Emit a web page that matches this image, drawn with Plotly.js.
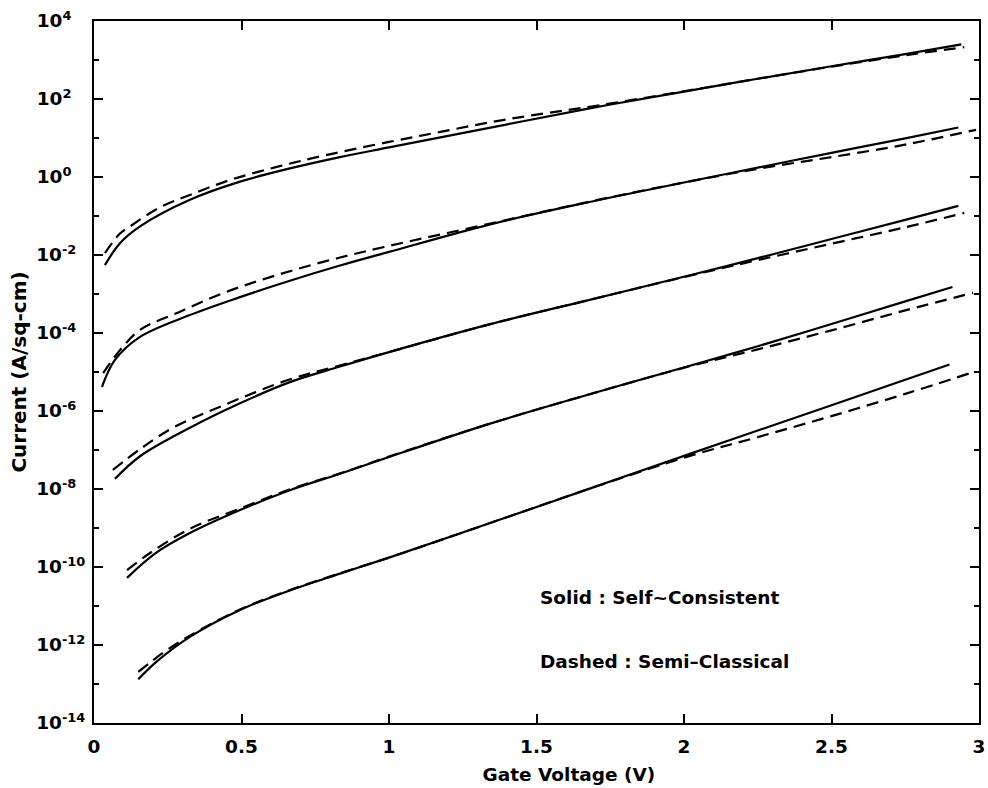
<!DOCTYPE html>
<html>
<head>
<meta charset="utf-8">
<script src="https://cdn.plot.ly/plotly-3.0.1.min.js"></script>
<style>
  html, body { margin: 0; padding: 0; background: #ffffff; }
  #chart { width: 988px; height: 788px; }
</style>
</head>
<body>
<div id="chart"></div>
<script>
// Gate current density vs gate voltage, five oxide thicknesses.
// Solid = self-consistent model, dashed = semi-classical model.

// Curve 1 (top)
const vSolid1 = [0.037, 0.088, 0.156, 0.325, 0.495, 0.664, 0.834, 1.0, 1.34, 1.68, 2.0, 2.25, 2.5, 2.75, 2.94];
const jSolid1 = [5.5e-3, 2.0e-2, 5.4e-2, 0.26, 0.76, 1.66, 3.24, 5.75, 18.2, 57.5, 155, 331, 692, 1413, 2512];
const vDash1  = [0.037, 0.088, 0.12, 0.22, 0.325, 0.46, 0.62, 0.78, 1.0, 1.17, 1.34, 1.5, 1.68, 2.0, 2.25, 2.5, 2.75, 2.95];
const jDash1  = [1.12e-2, 3.55e-2, 5.25e-2, 0.162, 0.347, 0.832, 1.82, 3.55, 7.94, 14.1, 25.1, 39.8, 63.1, 158, 331, 676, 1318, 2138];

// Curve 2
const vSolid2 = [0.027, 0.071, 0.156, 0.325, 0.495, 0.664, 0.834, 1.0, 1.34, 1.68, 2.0, 2.25, 2.5, 2.75, 2.93];
const jSolid2 = [4.17e-6, 2.04e-5, 7.94e-5, 2.88e-4, 8.32e-4, 2.19e-3, 5.37e-3, 1.20e-2, 6.03e-2, 0.229, 0.724, 1.74, 4.17, 9.77, 18.6];
const vDash2  = [0.031, 0.088, 0.156, 0.29, 0.44, 0.60, 0.78, 0.98, 1.34, 1.68, 2.0, 2.25, 2.5, 2.75, 2.99];
const jDash2  = [9.33e-6, 3.63e-5, 1.20e-4, 3.47e-4, 1.07e-3, 2.75e-3, 6.76e-3, 1.58e-2, 6.31e-2, 0.234, 0.724, 1.62, 3.24, 6.76, 16.2];

// Curve 3
const vSolid3 = [0.071, 0.156, 0.325, 0.495, 0.664, 0.834, 1.0, 1.34, 1.68, 2.02, 2.25, 2.5, 2.75, 2.93];
const jSolid3 = [1.82e-8, 6.92e-8, 3.72e-7, 1.58e-6, 5.50e-6, 1.38e-5, 3.24e-5, 1.66e-4, 7.08e-4, 3.02e-3, 8.32e-3, 2.57e-2, 7.94e-2, 0.182];
const vDash3  = [0.064, 0.156, 0.27, 0.44, 0.66, 0.83, 1.0, 1.34, 1.68, 2.02, 2.25, 2.5, 2.75, 2.95];
const jDash3  = [3.09e-8, 1.05e-7, 3.80e-7, 1.41e-6, 6.31e-6, 1.45e-5, 3.24e-5, 1.66e-4, 7.08e-4, 2.95e-3, 7.41e-3, 1.95e-2, 5.13e-2, 0.120];

// Curve 4
const vSolid4 = [0.112, 0.21, 0.325, 0.495, 0.664, 0.834, 1.0, 1.34, 1.68, 2.02, 2.25, 2.5, 2.75, 2.91];
const jSolid4 = [5.25e-11, 2.29e-10, 7.41e-10, 2.88e-9, 9.33e-9, 2.45e-8, 6.61e-8, 4.68e-7, 2.69e-6, 1.45e-5, 4.57e-5, 1.70e-4, 6.46e-4, 1.51e-3];
const vDash4  = [0.112, 0.19, 0.325, 0.495, 0.664, 0.834, 1.0, 1.34, 1.68, 2.02, 2.25, 2.5, 2.75, 2.98];
const jDash4  = [8.32e-11, 2.29e-10, 9.55e-10, 3.16e-9, 9.77e-9, 2.51e-8, 6.76e-8, 4.68e-7, 2.69e-6, 1.41e-5, 3.80e-5, 1.17e-4, 3.80e-4, 1.07e-3];

// Curve 5 (bottom)
const vSolid5 = [0.15, 0.213, 0.325, 0.495, 0.664, 0.834, 1.0, 1.34, 1.68, 2.02, 2.25, 2.5, 2.75, 2.90];
const jSolid5 = [1.32e-13, 3.80e-13, 1.62e-12, 7.94e-12, 2.51e-11, 6.76e-11, 1.74e-10, 1.32e-9, 1.02e-8, 7.94e-8, 3.16e-7, 1.41e-6, 6.31e-6, 1.55e-5];
const vDash5  = [0.15, 0.234, 0.325, 0.495, 0.664, 0.834, 1.0, 1.34, 1.68, 2.02, 2.25, 2.5, 2.75, 2.97];
const jDash5  = [2.04e-13, 6.31e-13, 1.74e-12, 8.13e-12, 2.57e-11, 6.92e-11, 1.74e-10, 1.32e-9, 1.02e-8, 7.08e-8, 2.14e-7, 7.41e-7, 2.75e-6, 9.33e-6];

// Axis ticks (y labels padded with figure/punctuation spaces so the "10"s line up on the left)
const xTickVals = [0, 0.5, 1, 1.5, 2, 2.5, 3];
const xTickText = ['0', '0.5', '1', '1.5', '2', '2.5', '3'];
const yMajorVals = [1e-14, 1e-12, 1e-10, 1e-8, 1e-6, 1e-4, 1e-2, 1e0, 1e2, 1e4];
const yMajorText = ['10<sup>-14</sup>', '10<sup>-12</sup>', '10<sup>-10</sup>',
                    '10<sup>-8\u2007</sup>', '10<sup>-6\u2007</sup>', '10<sup>-4\u2007</sup>', '10<sup>-2\u2007</sup>',
                    '10<sup>0\u2007\u2008</sup>', '10<sup>2\u2007\u2008</sup>', '10<sup>4\u2007\u2008</sup>'];
const yMinorVals = [1e-13, 1e-11, 1e-9, 1e-7, 1e-5, 1e-3, 1e-1, 1e1, 1e3];

const solidSets = [[vSolid1, jSolid1], [vSolid2, jSolid2], [vSolid3, jSolid3], [vSolid4, jSolid4], [vSolid5, jSolid5]];
const dashSets  = [[vDash1, jDash1], [vDash2, jDash2], [vDash3, jDash3], [vDash4, jDash4], [vDash5, jDash5]];

const traces = [];
solidSets.forEach(([x, y], i) => {
  traces.push({
    x: x, y: y, type: 'scatter', mode: 'lines', name: 'Self-Consistent ' + (i + 1),
    line: { color: '#000000', width: 2.2, shape: 'spline', smoothing: 1 },
    hoverinfo: 'x+y'
  });
});
dashSets.forEach(([x, y], i) => {
  traces.push({
    x: x, y: y, type: 'scatter', mode: 'lines', name: 'Semi-Classical ' + (i + 1),
    line: { color: '#000000', width: 2.2, dash: '12px,7px', shape: 'spline', smoothing: 1 },
    hoverinfo: 'x+y'
  });
});

const family = 'DejaVu Sans, Arial, sans-serif';
const baseFont = { family: family, size: 18.5, color: '#000000', weight: 'bold' };
const yTitleFont = { family: family, size: 20, color: '#000000', weight: 'bold' };

const layout = {
  width: 988,
  height: 788,
  margin: { l: 94, r: 9, t: 21, b: 65 },
  paper_bgcolor: '#ffffff',
  plot_bgcolor: '#ffffff',
  showlegend: false,
  font: baseFont,
  xaxis: {
    range: [0, 3],
    tickvals: xTickVals,
    ticktext: xTickText,
    ticks: 'inside',
    ticklen: 9,
    tickwidth: 2,
    tickcolor: '#000000',
    showline: true,
    linecolor: '#000000',
    linewidth: 2,
    mirror: 'ticks',
    showgrid: false,
    zeroline: false,
    ticklabelstandoff: 6,
    tickfont: baseFont,
    // zero-width space keeps the leading en spaces, which nudge the title to the right
    title: { text: '\u200B\u2002\u2002\u2002\u2002\u2002\u2002\u2002Gate Voltage (V)', font: baseFont, standoff: 12 }
  },
  yaxis: {
    type: 'log',
    range: [-14, 4],
    tickvals: yMajorVals,
    ticktext: yMajorText,
    ticks: 'inside',
    ticklen: 9,
    tickwidth: 2,
    tickcolor: '#000000',
    minor: { tickvals: yMinorVals, ticks: 'inside', ticklen: 5, tickwidth: 2, tickcolor: '#000000', showgrid: false },
    showline: true,
    linecolor: '#000000',
    linewidth: 2,
    mirror: 'ticks',
    showgrid: false,
    zeroline: false,
    ticklabelstandoff: 3,
    tickfont: baseFont,
    title: { text: 'Current (A/sq-cm)', font: yTitleFont, standoff: 4 }
  },
  annotations: [
    { xref: 'paper', yref: 'paper', x: 0.502, y: 0.179, xanchor: 'left', yanchor: 'middle',
      text: 'Solid : Self~Consistent', showarrow: false, font: baseFont },
    { xref: 'paper', yref: 'paper', x: 0.502, y: 0.087, xanchor: 'left', yanchor: 'middle',
      text: 'Dashed : Semi\u2013Classical', showarrow: false, font: baseFont }
  ]
};

Plotly.newPlot('chart', traces, layout, { displayModeBar: false, staticPlot: true });
</script>
</body>
</html>
